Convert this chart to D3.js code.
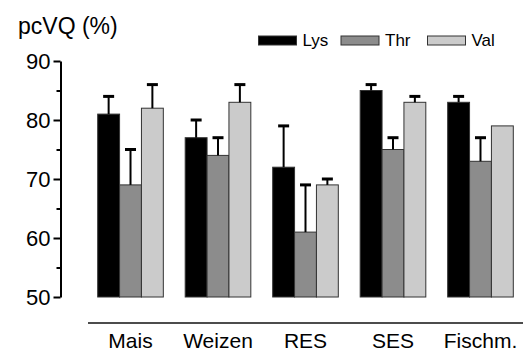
<!DOCTYPE html>
<html>
<head>
<meta charset="utf-8">
<script src="https://cdn.jsdelivr.net/npm/d3@7"></script>
<style>
  body { margin: 0; background: #fff; }
  svg { display: block; font-family: "Liberation Sans", Arial, Helvetica, sans-serif; }
</style>
</head>
<body>
<svg id="chart" width="525" height="353"></svg>
<script>
const categories = ["Mais", "Weizen", "RES", "SES", "Fischm."];
const series = ["Lys", "Thr", "Val"];
const lysValues = [81, 77, 72, 85, 83];
const lysErrors = [3, 3, 7, 1, 1];
const thrValues = [69, 74, 61, 75, 73];
const thrErrors = [6, 3, 8, 2, 4];
const valValues = [82, 83, 69, 83, 79];
const valErrors = [4, 3, 1, 1, 0];
const yTicks = [50, 60, 70, 80, 90];
const yMinorTicks = [55, 65, 75, 85];

const COLORS = {
    "Lys": "#000000",
    "Thr": "#8c8c8c",
    "Val": "#cbcbcb",
}

const values = { "Lys": lysValues, "Thr": thrValues, "Val": valValues };
const errors = { "Lys": lysErrors, "Thr": thrErrors, "Val": valErrors };

let svg = d3.select("#chart");

let scX = d3.scaleBand()
    .domain(categories)
    .range([97.7, 513.3])
    .paddingInner(0.25)
    .paddingOuter(0);

let scSub = d3.scaleBand()
    .domain(series)
    .range([0, scX.bandwidth()]);

let scY = d3.scaleLinear()
    .domain([50, 90])
    .range([297, 61]);

// y axis, minor ticks first
svg.append("g")
    .attr("transform", "translate(60.5, 0)")
    .call(d3.axisLeft(scY).tickValues(yMinorTicks).tickSize(4).tickFormat(""))
    .call(g => g.select(".domain").remove())
    .selectAll("line")
    .attr("stroke", "#000")
    .attr("stroke-width", 2);

let axisY = svg.append("g")
    .attr("transform", "translate(60.5, 0)")
    .call(d3.axisLeft(scY).tickValues(yTicks).tickSize(7).tickSizeOuter(0).tickPadding(3));
axisY.select(".domain").attr("stroke", "#000").attr("stroke-width", 2);
axisY.selectAll(".tick line").attr("stroke", "#000").attr("stroke-width", 2);
axisY.selectAll("text")
    .attr("font-size", 22)
    .attr("font-family", "'Liberation Sans', Arial, sans-serif")
    .attr("fill", "#000")
    .attr("dy", "0.36em");

// bars
let rows = [];
categories.forEach((c, i) => {
    series.forEach(s => {
        rows.push({ cat: c, s: s, v: values[s][i], e: errors[s][i] });
    });
});

svg.append("g")
    .selectAll("rect")
    .data(rows)
    .enter()
    .append("rect")
    .attr("x", d => scX(d.cat) + scSub(d.s))
    .attr("y", d => scY(d.v))
    .attr("width", scSub.bandwidth())
    .attr("height", d => scY(50) - scY(d.v))
    .attr("fill", d => COLORS[d.s])
    .attr("stroke", "#333")
    .attr("stroke-width", 1);

// error bars
let errRows = rows.filter(d => d.e > 0);
let eb = svg.append("g");
eb.selectAll(".ev")
    .data(errRows)
    .enter()
    .append("line")
    .attr("x1", d => scX(d.cat) + scSub(d.s) + scSub.bandwidth() / 2)
    .attr("x2", d => scX(d.cat) + scSub(d.s) + scSub.bandwidth() / 2)
    .attr("y1", d => scY(d.v))
    .attr("y2", d => scY(d.v + d.e))
    .attr("stroke", "#000")
    .attr("stroke-width", 2);
eb.selectAll(".ec")
    .data(errRows)
    .enter()
    .append("line")
    .attr("x1", d => scX(d.cat) + scSub(d.s) + scSub.bandwidth() / 2 - 5.5)
    .attr("x2", d => scX(d.cat) + scSub(d.s) + scSub.bandwidth() / 2 + 5.5)
    .attr("y1", d => scY(d.v + d.e))
    .attr("y2", d => scY(d.v + d.e))
    .attr("stroke", "#000")
    .attr("stroke-width", 3);

// category line and labels
svg.append("line")
    .attr("x1", 88)
    .attr("x2", 523)
    .attr("y1", 323)
    .attr("y2", 323)
    .attr("stroke", "#111")
    .attr("stroke-width", 1.5);

svg.append("g")
    .selectAll("text")
    .data(categories)
    .enter()
    .append("text")
    .attr("x", d => scX(d) + scX.bandwidth() / 2)
    .attr("y", 348)
    .attr("text-anchor", "middle")
    .attr("font-size", 21)
    .text(d => d);

// title
svg.append("text")
    .attr("x", 18)
    .attr("y", 34)
    .attr("font-size", 23)
    .text("pcVQ (%)");

// legend
const legendX = [258.5, 341, 427.5];
let lg = svg.append("g")
    .selectAll("g")
    .data(series)
    .enter()
    .append("g")
    .attr("transform", (d, i) => `translate(${legendX[i]}, 36)`);
lg.append("rect")
    .attr("width", 38)
    .attr("height", 9)
    .attr("fill", d => COLORS[d])
    .attr("stroke", "#333")
    .attr("stroke-width", 1);
lg.append("text")
    .attr("x", 44)
    .attr("y", 10)
    .attr("font-size", 17)
    .text(d => d);
</script>
</body>
</html>
